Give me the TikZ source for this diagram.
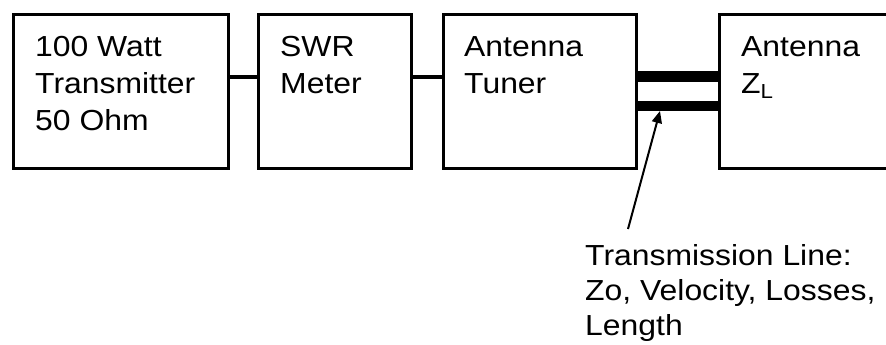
\documentclass[tikz,border=0pt]{standalone}
\usepackage{fontspec}
\setmainfont{Liberation Sans}[FakeStretch=1.1]
\usetikzlibrary{arrows.meta}
\begin{document}
\begin{tikzpicture}[x=1pt,y=-1pt,
  block/.style={draw, line width=3pt, anchor=north west, inner sep=0pt, outer sep=0pt},
  blocktext/.style={anchor=north west, inner sep=0pt, align=left, text=black,
    font=\fontsize{29}{37}\selectfont},
  notetext/.style={anchor=north west, inner sep=0pt, align=left, text=black,
    font=\fontsize{29}{35}\selectfont},
  wire/.style={line width=3pt},
  feeder/.style={line width=10.5pt},
  pointer/.style={line width=2pt, -{Triangle[length=12pt,width=10pt]}}]
\useasboundingbox (0,0) rectangle (886,345);
\clip (0,0) rectangle (886,345);
\fill[white] (0,0) rectangle (886,345);
% blocks
\node[block, minimum width=215pt, minimum height=153pt] (tx) at (13,15) {};
\node[block, minimum width=153pt, minimum height=153pt] (swr) at (258,15) {};
\node[block, minimum width=193pt, minimum height=153pt] (tuner) at (443,15) {};
\node[block, minimum width=200pt, minimum height=153pt] (ant) at (719,15) {};
% block texts
\node[blocktext] (txt1) at (35,36) {100 Watt\\Transmitter\\50 Ohm};
\node[blocktext] (txt2) at (280,36) {SWR\\Meter};
\node[blocktext] (txt3) at (464,36) {Antenna\\Tuner};
\node[blocktext] (txt4) at (741,36) {Antenna\\Z\textsubscript{L}};
% connectors
\draw[wire] ([yshift=14.5pt]tx.east) -- ([yshift=14.5pt]swr.west);
\draw[wire] ([yshift=14.5pt]swr.east) -- ([yshift=14.5pt]tuner.west);
\draw[feeder] ([yshift=15pt]tuner.east) -- ([yshift=15pt]ant.west);
\draw[feeder] ([yshift=-14.5pt]tuner.east) -- ([yshift=-14.5pt]ant.west);
% note
\node[notetext] (note) at (585,244) {Transmission Line:\\Zo, Velocity, Losses,\\Length};
\coordinate (tail) at (628,229);
\coordinate (tip) at (660,111);
\draw[pointer] (tail) -- (tip);
\end{tikzpicture}
\end{document}
